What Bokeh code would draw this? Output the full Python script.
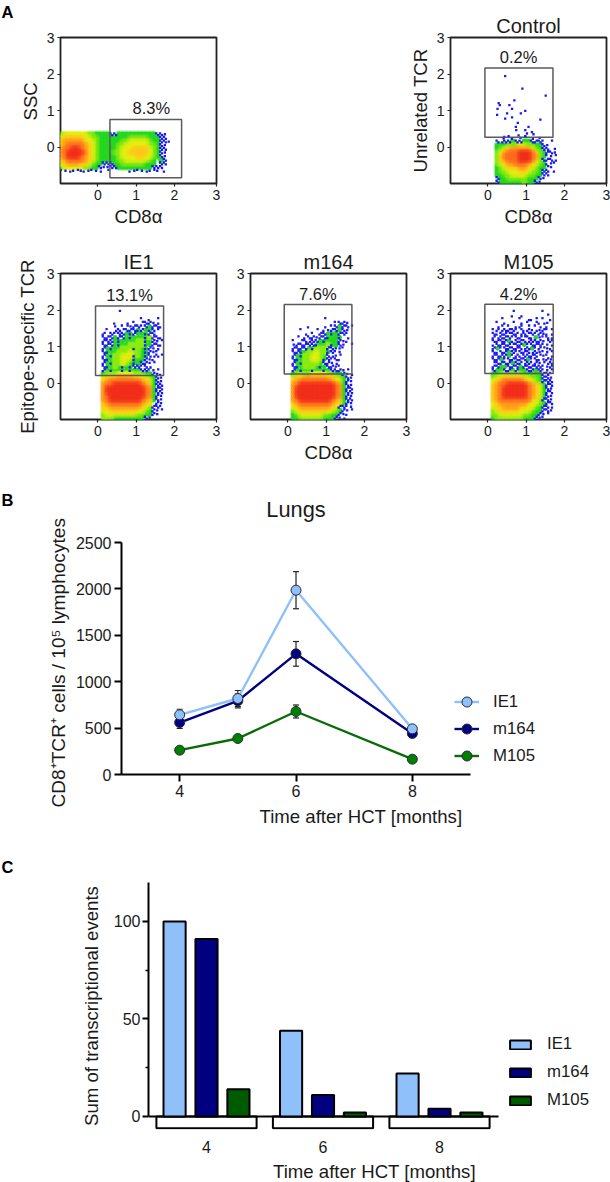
from bokeh.plotting import figure
from bokeh.layouts import column, row
from bokeh.models import (Label, Title, FixedTicker, Legend, LegendItem, Whisker, TeeHead, ColumnDataSource)
from bokeh.embed import file_html
from bokeh.resources import INLINE

FONT = "Liberation Sans"
INK = "#1a1a1a"

# ---------- Panel A: density, 0.1 x 0.1 log-unit cells
# digit = density class, g = thin green, h = thin green with a blue event,
# 1/a/b/c/d = one sparse blue event, 2/z = two blue events; rows run top to bottom
sample_density_rows = [
    "4555555443333223333333333221.",
    "5666665544333333334444433322",
    "67777765543333334455555433221",
    "6788887654333334455555544321",
    "7889987654333334555666654322",
    "7899998654333344556666654321",
    "7899987654333334555566554321",
    "6788887654333334455555543.32",
    "5677766543322233444444333.22",
    "455555443321122333333333222",
    "a1b1c1d1a1b.c.....d1a1b1c1.d",
]
control_density_rows = [
    "....a.d.1c.b.1....",
    "..2b22322332z2a.c.",
    "..33344455443321..",
    "..34567777754322.1",
    "..4578889998643z21",
    "..4688889998743a1c",
    "..4678889998642z2b",
    "..4567788876543d1a",
    "..3456667765433c1.",
    "..34455566544322.d",
    "..33445555443322..",
    "..2334444433321...",
    "..233333343321....",
]
ie1_density_rows = [
    ".....c...........",
    ".................",
    "...........a.d.c.",
    "....d..b.a.c2z1b.",
    "....1.ac1z2a2gz2d",
    "..a.b2c2z2hzgh2c.",
    ".z.2a22ghzgghz2..",
    ".2z2gz2ghgggh4z2d",
    ".z22ghgggg44hgz1c",
    ".2z2ghgg4444hgz2d",
    ".zghgg444h4ghz1b.",
    ".2hgg4445443hz1a.",
    ".zgh44555h4gh2b2c",
    ".2hg44554hg3z1d..",
    ".zgh4454gh32z1c..",
    ".2hg4ghgh22a2b...",
    ".zghgghghgg22a1c.",
    ".3444555544433z1d",
    ".5666777766554321",
    ".6788888888765321",
    ".7889999999876322",
    ".79999999999873z2",
    ".7999999999987322",
    ".78999999999873z1",
    ".7899999999876321",
    ".6788888888765.z1",
    ".6677777777654z2a",
    ".5566666665543z1c",
    ".4555555554433z1.",
    ".4443333333321...",
]
m164_density_rows = [
    ".................",
    ".........c.......",
    "............a2z1.",
    ".....d...b.a2gz2c",
    "...a...c.d1z2g21.",
    "....b.a.z2gh3z2a.",
    "..c.d2z1z2hg3h.b.",
    ".a.c2b22ghg3gz1d.",
    ".1z2z22hgg4h321.c",
    ".z2z2gh444z211a..",
    ".2zhg44544h2a1...",
    ".zgh44554g2b1c...",
    ".2hg44554h2a2d...",
    ".zgh4444g2z1b....",
    ".2hg444ghg2z1a...",
    ".zghgghgghg22z1c.",
    ".3444455554433z1b",
    ".5667777776654321",
    ".67888888887653z1",
    ".7899999999987321",
    ".79999999999873z2",
    ".7999999999987322",
    ".79999999999873z1",
    ".7899999999876322",
    ".67888888887653z1",
    ".567777777765z2a1",
    ".4566666665543z1c",
    ".345555554433z1d.",
    ".33444444333z1b..",
]
m105_density_rows = [
    "......c.......a..",
    "......d.b......c.",
    "...c....a.bdc.a.d",
    "..a.d.c.b.a.cdb1.",
    "..bc.a.dz.c.ab.d.",
    ".azb2z2acdz1b1zac",
    ".2d2zc2zb2c2az1db",
    ".zb2z2a2zc2dg1a2b",
    ".2z2zgd2z2b22z1cz",
    ".d2z2zc2zga2z2a1b",
    ".zga2z2z2b2gazc1d",
    ".2d2zg2a2z2b21a1c",
    ".z2zzgazd22z2c1ab",
    ".2zga2z2z2ga2d1z1",
    ".c2z2zg2zb2az1cb2",
    ".z2gg2z2gz2z22a1z",
    ".2gg2zgzgg2zg2a1c",
    ".3344444433333z2a",
    ".4556666655443z21",
    ".5678888876543z22",
    ".67889999987653z2",
    ".6789999998765321",
    ".67899999987653z2",
    ".6789999998765321",
    ".6788888888654z21",
    ".56777777765543z2",
    ".5667777665543z2b",
    ".4566666555433z21",
    ".445555554433z1c.",
    ".34444444333z1a..",
]
density_colors = {"3": "#25d820", "4": "#8cec12", "5": "#e6ee10", "6": "#ffc81a",
                  "7": "#ff9a1a", "8": "#ff6a20", "9": "#f2301c"}
thin_green = "#28d828"
dot_color = "#1a1aee"
dot_offsets = {"1": [(.05, .05)], "a": [(.025, .025)], "b": [(.075, .075)], "c": [(.075, .025)],
               "d": [(.025, .075)], "2": [(.025, .025), (.075, .075)], "z": [(.075, .025), (.025, .075)],
               "h": [(.03, .07)]}

control_event_x = [.45, .90, 1.51, .69, .28, .31, .25, .56, .63, .975, .86, .24, .50, 1.37,
                   .45, .63, .78, .73, .74, 1.06, .975, 1.15, 1.02, .80, .975, 1.19, .54, .41]
control_event_y = [1.94, 1.60, 1.41, 1.28, 1.20, 1.145, 1.045, 1.145, 1.045, .99, .92, .88, .92, .75,
                   .78, .81, .66, .55, .46, .55, .46, .41, .37, .32, .30, .35, .30, .23]

gates = {
    "sample": (0.313, 2.187, -0.844, 0.753),
    "control": (-0.08, 1.70, 0.268, 2.167),
    "IE1": (-0.064, 1.716, 0.205, 2.112),
    "m164": (-0.098, 1.672, 0.244, 2.151),
    "M105": (-0.082, 1.706, 0.26, 2.159),
}
percents = {
    "sample": ("8.3%", 1.394, 1.08),
    "control": ("0.2%", 0.80, 2.47),
    "IE1": ("13.1%", 0.826, 2.42),
    "m164": ("7.6%", 0.78, 2.45),
    "M105": ("4.2%", 0.80, 2.45),
}
flow_ticks = [0, 1, 2, 3.1]
flow_tick_labels = {0: "0", 1: "1", 2: "2", 3.1: "3"}

# ---------- Panel B
months_b = [4, 5, 6, 8]
ie1_cells = [643, 819, 1986, 492]
ie1_err = [60, 86, 200, 25]
m164_cells = [560, 794, 1300, 442]
m164_err = [64, 76, 133, 20]
m105_cells = [262, 388, 679, 165]
m105_err = [20, 20, 70, 15]

# ---------- Panel C
groups_c = ["4", "6", "8"]
ie1_events = [100, 44, 22]
m164_events = [91, 11, 4]
m105_events = [14, 2, 2]

LIGHT = "#8fc0f9"
NAVY = "#000080"
GREEN_LINE = "#0b6b0b"
GREEN_MARK = "#008000"
GREEN_BAR = "#005a00"


def style_font(ax, label_size, tick_size):
    ax.axis_label_text_font = FONT
    ax.axis_label_text_font_style = "normal"
    ax.axis_label_text_font_size = label_size
    ax.axis_label_text_color = INK
    ax.major_label_text_font = FONT
    ax.major_label_text_font_size = tick_size
    ax.major_label_text_color = INK


def add_density(p, rows, x0, y_top):
    cells, gx, gy = [], [], []
    dx, dy = [], []
    for j, line in enumerate(rows):
        yt = y_top - j * 0.1
        for i, ch in enumerate(line):
            xl = x0 + i * 0.1
            if ch in density_colors:
                cells.append((ch, xl + 0.05, yt - 0.05))
            if ch in "gh":
                gx.append(xl + 0.05)
                gy.append(yt - 0.05)
            if ch in dot_offsets:
                for ox, oy in dot_offsets[ch]:
                    dx.append(xl + ox)
                    dy.append(yt - oy)
    cells.sort(key=lambda c: c[0])
    cx = [c[1] for c in cells]
    cy = [c[2] for c in cells]
    cc = [density_colors[c[0]] for c in cells]
    p.scatter(gx, gy, marker="circle", size=4.8, color=thin_green, line_width=0)
    p.scatter(cx, cy, marker="circle", size=5.4, color=cc, line_width=0)
    p.scatter(cx, cy, marker="circle", size=8, color=cc, alpha=0.3, line_width=0)
    p.scatter(dx, dy, marker="square", size=2.3, color=dot_color, line_width=0)


def flow_panel(key, rows, x0, y_top, width, height, left, top, title=None, xlabel=None, ylabel=None,
               ylabel_standoff=3):
    right = width - left - 156
    bottom = height - top - 146
    p = figure(width=int(width), height=int(height), x_range=(-0.98, 3.1), y_range=(-1, 3),
               toolbar_location=None, output_backend="svg",
               min_border_left=int(left), min_border_right=int(right),
               min_border_top=int(top), min_border_bottom=int(bottom),
               title=title)
    p.frame_width = 156
    p.frame_height = 146
    p.grid.visible = False
    p.outline_line_color = "#222222"
    p.outline_line_width = 1.8
    for ax in (p.xaxis[0], p.yaxis[0]):
        style_font(ax, "18.6px", "14px")
        ax.axis_line_color = None
        ax.major_tick_in = 0
        ax.major_tick_out = 3
        ax.major_tick_line_color = "#222222"
        ax.major_tick_line_width = 1.2
        ax.minor_tick_line_color = None
        ax.major_label_standoff = 3
    p.xaxis[0].ticker = FixedTicker(ticks=flow_ticks)
    p.xaxis[0].major_label_overrides = flow_tick_labels
    p.yaxis[0].ticker = FixedTicker(ticks=[0, 1, 2, 3])
    p.yaxis[0].major_label_orientation = "horizontal"
    if xlabel:
        p.xaxis[0].axis_label = xlabel
        p.xaxis[0].axis_label_standoff = 3
    if ylabel:
        p.yaxis[0].axis_label = ylabel
        p.yaxis[0].axis_label_standoff = ylabel_standoff
    if title:
        p.title.text_font = FONT
        p.title.text_font_style = "normal"
        p.title.text_font_size = "20px"
        p.title.text_color = INK
        p.title.align = "center"
        p.title.standoff = 1
    add_density(p, rows, x0, y_top)
    xl, xr, yb, yt = gates[key]
    p.quad(left=[xl], right=[xr], bottom=[yb], top=[yt], fill_color=None,
           line_color="#5a5a5a", line_width=1.5)
    txt, tx, ty = percents[key]
    p.add_layout(Label(x=tx, y=ty, text=txt, text_font=FONT, text_font_size="16.5px", text_color=INK,
                       text_align="center", text_baseline="middle"))
    return p


def letter_figure(txt, width):
    f = figure(width=width, height=30, x_range=(0, width), y_range=(30, 0), toolbar_location=None,
               output_backend="svg", x_axis_type=None, y_axis_type=None, min_border=0)
    f.frame_width = width
    f.frame_height = 30
    f.grid.visible = False
    f.outline_line_color = None
    f.add_layout(Label(x=1, y=11, text=txt, text_font=FONT, text_font_style="bold",
                       text_font_size="16.5px", text_color="#000000",
                       text_align="left", text_baseline="middle"))
    return f


letter_a = letter_figure("A", 14)
a1 = flow_panel("sample", sample_density_rows, -1.0, 0.4, 286, 236, 46, 36, xlabel="CD8α")
a1.add_layout(Title(text="SSC", align="left", offset=63, standoff=6, text_font=FONT, text_font_style="normal",
                    text_font_size="18.6px", text_color=INK), "left")
control = flow_panel("control", control_density_rows, 0.0, 0.3, 310, 236, 150, 37, title="Control",
                     xlabel="CD8α", ylabel="Unrelated TCR")
control.scatter(control_event_x, control_event_y, marker="square", size=2.3, color=dot_color, line_width=0)
ie1 = flow_panel("IE1", ie1_density_rows, 0.0, 2.0, 228, 252, 60, 36, title="IE1",
                 ylabel="Epitope-specific TCR", ylabel_standoff=6)
m164 = flow_panel("m164", m164_density_rows, 0.0, 1.9, 192, 252, 22, 36, title="m164", xlabel="CD8α")
m105 = flow_panel("M105", m105_density_rows, 0.0, 2.0, 190, 252, 30, 37, title="M105")

# ---------- Panel B figure: a narrow figure holds the letter, the chart sits right of it
letter_b = letter_figure("B", 20)

pb = figure(width=590, height=360, x_range=(3, 3 + 479 / 58.17), y_range=(0, 3006.5),
            toolbar_location=None, output_backend="svg", min_border_left=101, min_border_right=10,
            min_border_top=7, min_border_bottom=74)
pb.frame_width = 479
pb.frame_height = 279
pb.grid.visible = False
pb.outline_line_color = None
for ax in (pb.xaxis[0], pb.yaxis[0]):
    style_font(ax, "18.6px", "16px")
    ax.axis_line_color = "#000000"
    ax.axis_line_width = 2
    ax.major_tick_line_color = "#000000"
    ax.major_tick_line_width = 2
    ax.major_tick_in = 0
    ax.major_tick_out = 7
    ax.minor_tick_line_color = None
    ax.major_label_standoff = 3
pb.xaxis[0].ticker = FixedTicker(ticks=[4, 6, 8])
pb.xaxis[0].bounds = (3, 9)
pb.xaxis[0].axis_label = "Time after HCT [months]"
pb.xaxis[0].axis_label_standoff = 6
pb.yaxis[0].ticker = FixedTicker(ticks=[0, 500, 1000, 1500, 2000, 2500])
pb.yaxis[0].bounds = (0, 2500)
pb.yaxis[0].major_label_orientation = "horizontal"
pb.add_layout(Title(text="CD8⁺TCR⁺ cells / 10⁵ lymphocytes", align="left", offset=-33, standoff=7,
                    text_font=FONT, text_font_style="normal", text_font_size="19.1px", text_color=INK), "left")
pb.add_layout(Label(x=6, y=2859, text="Lungs", text_font=FONT, text_font_size="21.8px", text_color=INK,
                    text_align="center", text_baseline="middle"))

items = []
for name, ys, errs, lc, mc in [("M105", m105_cells, m105_err, GREEN_LINE, GREEN_MARK),
                               ("m164", m164_cells, m164_err, NAVY, NAVY),
                               ("IE1", ie1_cells, ie1_err, LIGHT, LIGHT)]:
    src = ColumnDataSource(dict(x=months_b, y=ys, up=[a + b for a, b in zip(ys, errs)],
                                lo=[a - b for a, b in zip(ys, errs)]))
    pb.add_layout(Whisker(source=src, base="x", upper="up", lower="lo", line_color="#222222",
                          line_width=1.2, level="underlay",
                          upper_head=TeeHead(size=6, line_color="#222222", line_width=1.2),
                          lower_head=TeeHead(size=6, line_color="#222222", line_width=1.2)))
    ln = pb.line("x", "y", source=src, line_color=lc, line_width=2.4)
    mk = pb.scatter("x", "y", source=src, marker="circle", size=10, fill_color=mc, line_color="#2a2a3a",
                    line_width=1)
    items.append(LegendItem(label=name, renderers=[ln, mk]))
lg = Legend(items=items[::-1], location=(333, 6), border_line_color=None, background_fill_color=None,
            padding=0, margin=0, glyph_width=25, glyph_height=25, label_standoff=14, spacing=2,
            label_text_font=FONT, label_text_font_size="16.8px", label_text_color=INK)
pb.add_layout(lg, "center")

# ---------- Panel C figure
UNIT = 116.5
pc = figure(width=610, height=334, x_range=(-58 / UNIT, 394 / UNIT), y_range=(-6.7, 120),
            toolbar_location=None, output_backend="svg", min_border_left=148, min_border_right=10,
            min_border_top=34, min_border_bottom=53)
pc.frame_width = 452
pc.frame_height = 247
pc.grid.visible = False
pc.outline_line_color = None
for ax in (pc.xaxis[0], pc.yaxis[0]):
    style_font(ax, "18.6px", "16px")
    ax.major_tick_line_color = "#000000"
    ax.major_tick_in = 0
pc.yaxis[0].axis_line_color = "#000000"
pc.yaxis[0].axis_line_width = 2
pc.yaxis[0].bounds = (0, 120)
pc.yaxis[0].ticker = FixedTicker(ticks=[0, 50, 100], minor_ticks=[25, 75])
pc.yaxis[0].major_tick_out = 6
pc.yaxis[0].major_tick_line_width = 2
pc.yaxis[0].minor_tick_out = 3
pc.yaxis[0].minor_tick_in = 0
pc.yaxis[0].minor_tick_line_color = "#000000"
pc.yaxis[0].minor_tick_line_width = 1.5
pc.yaxis[0].major_label_standoff = 2
pc.yaxis[0].major_label_orientation = "horizontal"
pc.yaxis[0].axis_label = "Sum of transcriptional events"
pc.yaxis[0].axis_label_standoff = 9
pc.xaxis[0].axis_line_color = None
pc.xaxis[0].major_tick_line_color = None
pc.xaxis[0].minor_tick_line_color = None
pc.xaxis[0].ticker = FixedTicker(ticks=[0, 1, 2])
pc.xaxis[0].major_label_overrides = {i: g for i, g in enumerate(groups_c)}
pc.xaxis[0].major_label_standoff = 5
pc.xaxis[0].axis_label = "Time after HCT [months]"
pc.xaxis[0].axis_label_standoff = 5
pc.xaxis[0].bounds = (-58 / UNIT, 292 / UNIT)

xs = [0, 1, 2]
pc.quad(left=[i - 0.43 for i in xs], right=[i + 0.43 for i in xs], top=[0, 0, 0], bottom=[-6, -6, -6],
        fill_color="#ffffff", line_color="#000000", line_width=2)
pc.segment(x0=[-58 / UNIT], x1=[292 / UNIT], y0=[0], y1=[0], line_color="#000000", line_width=2)
bar_items = []
for name, ys, off, col in [("IE1", ie1_events, -0.274, LIGHT), ("m164", m164_events, 0, NAVY),
                           ("M105", m105_events, 0.274, GREEN_BAR)]:
    r = pc.vbar(x=[i + off for i in xs], top=ys, bottom=0, width=0.19, fill_color=col,
                line_color="#000000", line_width=2)
    bar_items.append(LegendItem(label=name, renderers=[r]))
lgc = Legend(items=bar_items, location=(359, 19), border_line_color=None, background_fill_color=None,
             padding=0, margin=0, glyph_width=26, glyph_height=11, label_standoff=14, spacing=8,
             label_text_font=FONT, label_text_font_size="16.8px", label_text_color=INK)
pc.add_layout(lgc, "center")
pc.title.text = "C"
pc.title.text_font = FONT
pc.title.text_font_style = "bold"
pc.title.text_font_size = "16.5px"
pc.title.text_color = "#000000"
pc.title.align = "left"
pc.title.offset = -147
pc.title.standoff = 13

page = column(row(column(letter_a), row(a1, control, spacing=0), spacing=0),
              row(ie1, m164, m105, spacing=0),
              row(column(letter_b), pb, spacing=0), row(pc), spacing=0)
open("out.html", "w").write(file_html(page, INLINE))
